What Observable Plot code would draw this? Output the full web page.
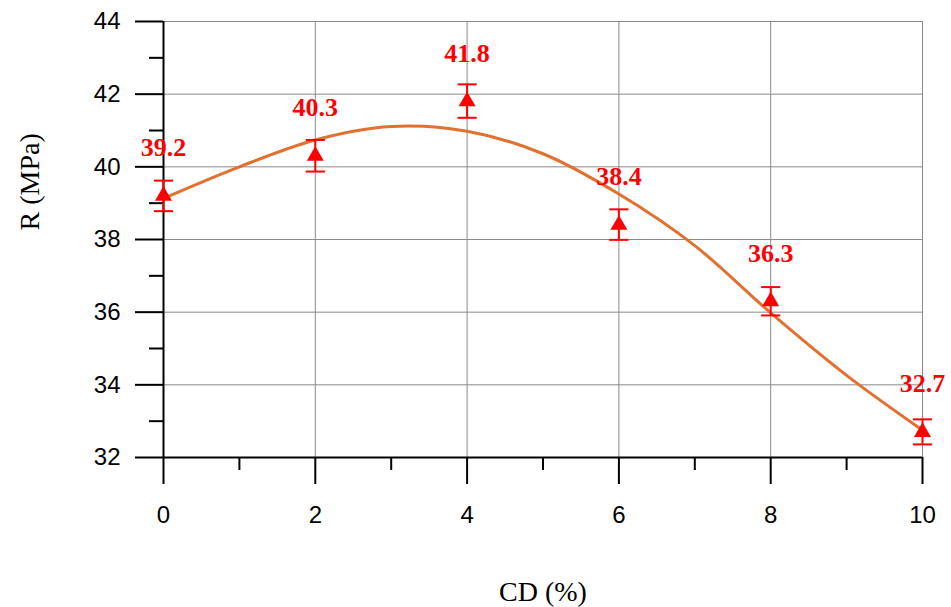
<!DOCTYPE html>
<html>
<head>
<meta charset="utf-8">
<script src="https://cdn.jsdelivr.net/npm/d3@7"></script>
<script src="https://cdn.jsdelivr.net/npm/@observablehq/plot@0.6"></script>
<style>
  html, body { margin: 0; padding: 0; background: white; }
</style>
</head>
<body>
<div id="chart"></div>
<script>
// Measured data
const cd = [0, 2, 4, 6, 8, 10];
const strength = [39.2, 40.3, 41.8, 38.4, 36.3, 32.7];
const errLow = [38.78, 39.87, 41.35, 37.99, 35.91, 32.36];
const errHigh = [39.62, 40.74, 42.27, 38.83, 36.69, 33.05];

// Fitted trend curve
const fitX = [0, 1, 2, 3, 4, 5, 6, 7, 8, 9, 10];
const fitY = [39.13, 40.0, 40.74, 41.11, 40.98, 40.36, 39.25, 37.83, 35.98, 34.26, 32.75];

// Ticks
const xMajor = [0, 2, 4, 6, 8, 10];
const xMinor = [1, 3, 5, 7, 9];
const yMajor = [32, 34, 36, 38, 40, 42, 44];
const yMinor = [33, 35, 37, 39, 41, 43];

const points = cd.map((x, i) => ({x, R: strength[i], lo: errLow[i], hi: errHigh[i]}));
const fit = fitX.map((x, i) => ({x, y: fitY[i]}));

const cap = {
  draw(context, size) {
    const w = Math.sqrt(size);
    context.moveTo(-w, 0);
    context.lineTo(w, 0);
  }
};

const serif = "'Liberation Serif', 'Times New Roman', serif";

const chart = Plot.plot({
  width: 951,
  height: 607,
  marginLeft: 163,
  marginRight: 29,
  marginTop: 21,
  marginBottom: 150,
  style: {fontFamily: "'Liberation Sans', Arial, sans-serif", background: "white", color: "black"},
  x: {domain: [0, 10], label: null},
  y: {domain: [32, 44], label: null},
  marks: [
    Plot.gridX(xMajor, {stroke: "#8a8a8a", strokeOpacity: 1, strokeWidth: 1}),
    Plot.gridY(yMajor, {stroke: "#8a8a8a", strokeOpacity: 1, strokeWidth: 1}),
    Plot.axisY(yMajor, {tickSize: 28, tickPadding: 15, fontSize: 24, strokeWidth: 2, stroke: "black", fill: "black", label: null}),
    Plot.axisY(yMinor, {tickSize: 14, tickFormat: () => "", strokeWidth: 2, stroke: "black", label: null}),
    Plot.axisX(xMajor, {tickSize: 27, tickPadding: 21, fontSize: 24, strokeWidth: 2, stroke: "black", fill: "black", label: null}),
    Plot.axisX(xMinor, {tickSize: 13, tickFormat: () => "", strokeWidth: 2, stroke: "black", label: null}),
    Plot.ruleY([32], {stroke: "black", strokeWidth: 2}),
    Plot.ruleX([0], {stroke: "black", strokeWidth: 2}),
    Plot.line(fit, {x: "x", y: "y", curve: "catmull-rom", stroke: "#E2712F", strokeWidth: 3}),
    Plot.ruleX(points, {x: "x", y1: "lo", y2: "hi", stroke: "red", strokeWidth: 2}),
    Plot.dot(points, {x: "x", y: "hi", symbol: cap, r: 5.4, stroke: "red", strokeWidth: 2, fill: "none"}),
    Plot.dot(points, {x: "x", y: "lo", symbol: cap, r: 5.4, stroke: "red", strokeWidth: 2, fill: "none"}),
    Plot.dot(points, {x: "x", y: "R", symbol: "triangle", r: 6.3, fill: "red", stroke: "none"}),
    Plot.text(points, {x: "x", y: "R", text: d => d.R.toFixed(1), dy: -48, fill: "red", fontWeight: "bold", fontSize: 26, fontFamily: serif}),
    Plot.text(["CD (%)"], {text: d => d, frameAnchor: "bottom", dy: 143, lineAnchor: "bottom", fontSize: 28, fontFamily: serif, fill: "black"}),
    Plot.text(["R (MPa)"], {text: d => d, frameAnchor: "left", dx: -133, dy: -9, rotate: -90, fontSize: 28, fontFamily: serif, fill: "black"})
  ]
});

document.getElementById("chart").appendChild(chart);
</script>
</body>
</html>
